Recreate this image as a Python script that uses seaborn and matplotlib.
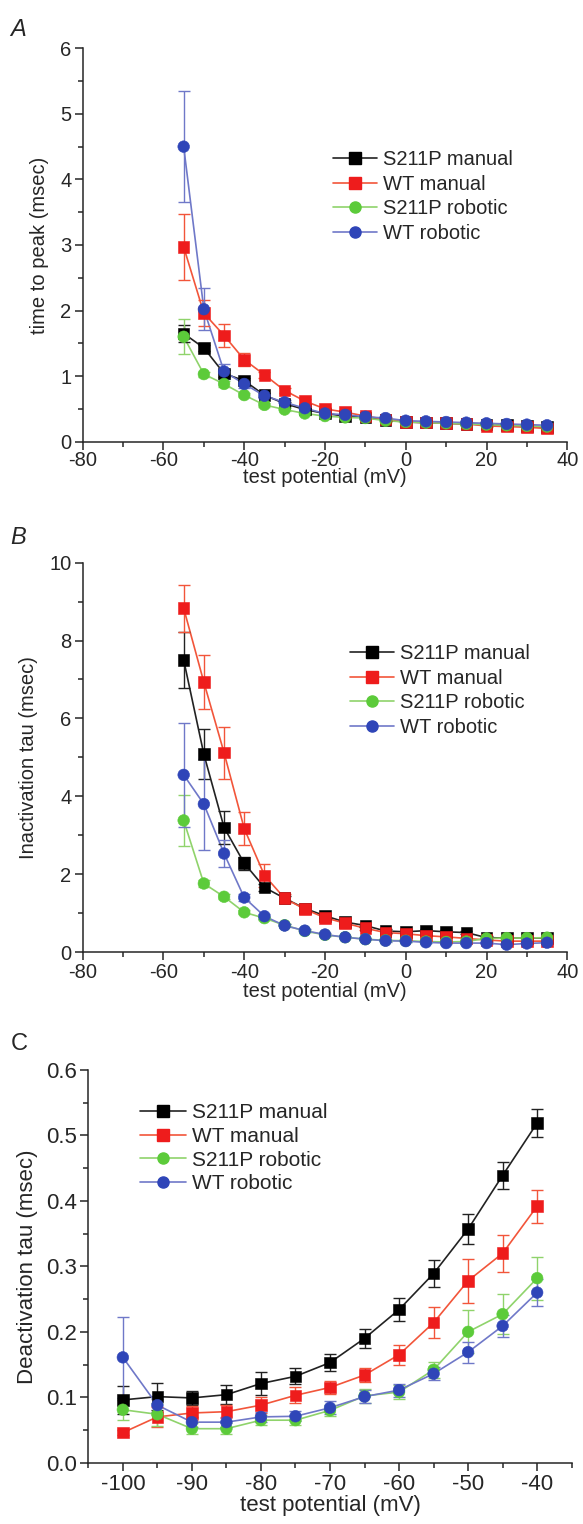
import numpy as np
import pandas as pd
import matplotlib
matplotlib.use("Agg")
import matplotlib.pyplot as plt
import seaborn as sns
from matplotlib.lines import Line2D
from matplotlib.ticker import MultipleLocator, FormatStrFormatter

# -------------------------------
# data
# -------------------------------
series = ["S211P manual", "WT manual", "S211P robotic", "WT robotic"]

v_ab = list(range(-55, 40, 5))   # panels A and B
v_c = list(range(-100, -35, 5))  # panel C

# A: time to peak (msec)
a_s211p_man = [1.65, 1.43, 1.04, 0.93, 0.71, 0.58, 0.49, 0.43, 0.39, 0.37, 0.33, 0.30, 0.29, 0.28, 0.27, 0.26, 0.25, 0.24, 0.22]
a_wt_man = [2.97, 1.96, 1.62, 1.25, 1.02, 0.78, 0.62, 0.50, 0.45, 0.39, 0.34, 0.30, 0.29, 0.28, 0.27, 0.24, 0.23, 0.22, 0.20]
a_s211p_rob = [1.60, 1.03, 0.88, 0.71, 0.56, 0.49, 0.43, 0.39, 0.37, 0.36, 0.32, 0.30, 0.29, 0.28, 0.27, 0.26, 0.25, 0.24, 0.23]
a_wt_rob = [4.50, 2.02, 1.07, 0.88, 0.70, 0.60, 0.51, 0.43, 0.41, 0.38, 0.36, 0.32, 0.31, 0.30, 0.29, 0.28, 0.27, 0.26, 0.25]
a_err_s211p_man = [0.13, 0.05, 0.06, 0.04, 0.03, 0.03, 0.02, 0.02, 0.02, 0.02, 0.02, 0.02, 0.02, 0.01, 0.01, 0.01, 0.01, 0.01, 0.01]
a_err_wt_man = [0.50, 0.20, 0.18, 0.10, 0.05, 0.04, 0.03, 0.03, 0.02, 0.02, 0.02, 0.02, 0.02, 0.01, 0.01, 0.01, 0.01, 0.01, 0.01]
a_err_s211p_rob = [0.27, 0.04, 0.04, 0.03, 0.03, 0.02, 0.02, 0.02, 0.02, 0.02, 0.02, 0.02, 0.01, 0.01, 0.01, 0.01, 0.01, 0.01, 0.01]
a_err_wt_rob = [0.85, 0.32, 0.12, 0.06, 0.04, 0.03, 0.03, 0.02, 0.02, 0.02, 0.02, 0.02, 0.02, 0.01, 0.01, 0.01, 0.01, 0.01, 0.01]

# B: inactivation tau (msec)
b_s211p_man = [7.50, 5.08, 3.20, 2.28, 1.66, 1.38, 1.12, 0.93, 0.77, 0.68, 0.54, 0.52, 0.55, 0.52, 0.50, 0.37, 0.36, 0.36, 0.36]
b_wt_man = [8.83, 6.93, 5.12, 3.17, 1.97, 1.38, 1.10, 0.88, 0.74, 0.61, 0.50, 0.47, 0.42, 0.39, 0.35, 0.31, 0.28, 0.28, 0.28]
b_s211p_rob = [3.38, 1.76, 1.42, 1.02, 0.87, 0.69, 0.54, 0.44, 0.38, 0.33, 0.30, 0.29, 0.27, 0.26, 0.27, 0.35, 0.36, 0.36, 0.37]
b_wt_rob = [4.55, 3.80, 2.53, 1.40, 0.92, 0.68, 0.55, 0.45, 0.38, 0.33, 0.29, 0.28, 0.25, 0.23, 0.23, 0.23, 0.19, 0.22, 0.24]
b_err_s211p_man = [0.73, 0.64, 0.42, 0.17, 0.10, 0.07, 0.06, 0.05, 0.05, 0.04, 0.04, 0.04, 0.04, 0.04, 0.04, 0.03, 0.03, 0.03, 0.03]
b_err_wt_man = [0.60, 0.70, 0.67, 0.43, 0.30, 0.12, 0.08, 0.06, 0.05, 0.04, 0.04, 0.04, 0.03, 0.03, 0.03, 0.03, 0.03, 0.03, 0.03]
b_err_s211p_rob = [0.65, 0.10, 0.06, 0.05, 0.04, 0.03, 0.03, 0.03, 0.02, 0.02, 0.02, 0.02, 0.02, 0.02, 0.02, 0.02, 0.02, 0.02, 0.02]
b_err_wt_rob = [1.34, 1.17, 0.34, 0.10, 0.06, 0.04, 0.04, 0.03, 0.03, 0.02, 0.02, 0.02, 0.02, 0.02, 0.02, 0.02, 0.02, 0.02, 0.02]

# C: deactivation tau (msec)
c_s211p_man = [0.096, 0.101, 0.099, 0.104, 0.121, 0.132, 0.153, 0.190, 0.234, 0.289, 0.357, 0.439, 0.519]
c_wt_man = [0.046, 0.070, 0.076, 0.078, 0.088, 0.103, 0.115, 0.134, 0.165, 0.214, 0.278, 0.320, 0.392]
c_s211p_rob = [0.081, 0.074, 0.052, 0.052, 0.065, 0.065, 0.080, 0.102, 0.108, 0.142, 0.200, 0.227, 0.282]
c_wt_rob = [0.161, 0.088, 0.062, 0.062, 0.070, 0.071, 0.084, 0.101, 0.111, 0.136, 0.169, 0.209, 0.260]
c_err_s211p_man = [0.021, 0.021, 0.011, 0.014, 0.017, 0.012, 0.013, 0.015, 0.018, 0.021, 0.023, 0.021, 0.021]
c_err_wt_man = [0.004, 0.015, 0.010, 0.010, 0.012, 0.012, 0.010, 0.010, 0.015, 0.024, 0.034, 0.028, 0.025]
c_err_s211p_rob = [0.015, 0.018, 0.008, 0.008, 0.008, 0.008, 0.008, 0.010, 0.010, 0.012, 0.033, 0.031, 0.033]
c_err_wt_rob = [0.062, 0.010, 0.008, 0.008, 0.008, 0.008, 0.010, 0.010, 0.010, 0.010, 0.016, 0.017, 0.020]

# -------------------------------
# style
# -------------------------------
line_colors = {"S211P manual": "#222222", "WT manual": "#f2553a",
               "S211P robotic": "#8fd36b", "WT robotic": "#6f78c8"}
marker_colors = {"S211P manual": "#000000", "WT manual": "#ee1c1c",
                 "S211P robotic": "#5ccb3a", "WT robotic": "#2f45b8"}
marker_shapes = {"S211P manual": "s", "WT manual": "s",
                 "S211P robotic": "o", "WT robotic": "o"}

sns.set_style("ticks")
plt.rcParams["font.family"] = ["Liberation Sans", "DejaVu Sans"]
plt.rcParams["axes.unicode_minus"] = False
plt.rcParams["axes.linewidth"] = 1.1


def long_table(x, vals, errs):
    rows = []
    for name, v, e in zip(series, vals, errs):
        for xi, yi, ei in zip(x, v, e):
            rows.append({"potential": xi, "value": yi, "err": ei, "series": name})
    return pd.DataFrame(rows)


def draw_panel(ax, df, fs, xpad=2):
    sns.lineplot(data=df, x="potential", y="value", hue="series",
                 hue_order=series, palette=line_colors, lw=1.2,
                 legend=False, ax=ax, zorder=2)
    for name in series:
        d = df[df["series"] == name]
        ax.errorbar(d["potential"], d["value"], yerr=d["err"], fmt="none",
                    ecolor=line_colors[name], elinewidth=1.0, capsize=4,
                    capthick=1.0, zorder=2)
    sns.scatterplot(data=df, x="potential", y="value", hue="series",
                    hue_order=series, palette=marker_colors, style="series",
                    markers=marker_shapes, s=70, linewidth=0.4,
                    edgecolor="face", legend=False, ax=ax, zorder=3)
    sns.despine(ax=ax)
    ax.tick_params(which="major", length=6, width=1.1, labelsize=fs, direction="out")
    ax.tick_params(which="minor", length=3.5, width=1.1, direction="out")
    ax.tick_params(axis="x", which="major", pad=xpad)
    ax.tick_params(axis="y", which="major", pad=2)


def add_legend(ax, anchor, fs, spacing):
    handles = [Line2D([], [], color=line_colors[n], lw=1.2,
                      marker=marker_shapes[n], markersize=8,
                      markerfacecolor=marker_colors[n],
                      markeredgecolor=marker_colors[n]) for n in series]
    ax.legend(handles, series, loc="upper left", bbox_to_anchor=anchor,
              frameon=False, fontsize=fs, handlelength=2.2, handletextpad=0.3,
              labelspacing=spacing, borderaxespad=0)


fig = plt.figure(figsize=(5.83, 15.24), dpi=100)

# -------------------------------
# A
# -------------------------------
axA = fig.add_axes([0.1419, 0.7102, 0.8311, 0.2581])
dfA = long_table(v_ab, [a_s211p_man, a_wt_man, a_s211p_rob, a_wt_rob],
                 [a_err_s211p_man, a_err_wt_man, a_err_s211p_rob, a_err_wt_rob])
draw_panel(axA, dfA, 14.5, xpad=0.5)
axA.set_xlim(-80, 40)
axA.set_ylim(0, 6)
axA.xaxis.set_major_locator(MultipleLocator(20))
axA.xaxis.set_minor_locator(MultipleLocator(10))
axA.yaxis.set_major_locator(MultipleLocator(1))
axA.yaxis.set_minor_locator(MultipleLocator(0.5))
axA.set_xlabel("test potential (mV)", fontsize=14.5, labelpad=-1)
axA.set_ylabel("time to peak (msec)", fontsize=14.5, labelpad=8)
add_legend(axA, (0.50, 0.762), 14.5, 0.28)

# -------------------------------
# B
# -------------------------------
axB = fig.add_axes([0.1419, 0.3753, 0.8311, 0.2555])
dfB = long_table(v_ab, [b_s211p_man, b_wt_man, b_s211p_rob, b_wt_rob],
                 [b_err_s211p_man, b_err_wt_man, b_err_s211p_rob, b_err_wt_rob])
draw_panel(axB, dfB, 14.5)
axB.set_xlim(-80, 40)
axB.set_ylim(0, 10)
axB.xaxis.set_major_locator(MultipleLocator(20))
axB.xaxis.set_minor_locator(MultipleLocator(10))
axB.yaxis.set_major_locator(MultipleLocator(2))
axB.yaxis.set_minor_locator(MultipleLocator(1))
axB.set_xlabel("test potential (mV)", fontsize=14.5, labelpad=0)
axB.set_ylabel("Inactivation tau (msec)", fontsize=14.5, labelpad=8)
add_legend(axB, (0.535, 0.812), 14.5, 0.28)

# -------------------------------
# C
# -------------------------------
axC = fig.add_axes([0.1515, 0.0402, 0.8291, 0.2577])
dfC = long_table(v_c, [c_s211p_man, c_wt_man, c_s211p_rob, c_wt_rob],
                 [c_err_s211p_man, c_err_wt_man, c_err_s211p_rob, c_err_wt_rob])
draw_panel(axC, dfC, 16)
axC.set_xlim(-105, -35)
axC.set_ylim(0, 0.6)
axC.xaxis.set_major_locator(MultipleLocator(10))
axC.xaxis.set_minor_locator(MultipleLocator(5))
axC.yaxis.set_major_locator(MultipleLocator(0.1))
axC.yaxis.set_minor_locator(MultipleLocator(0.05))
axC.yaxis.set_major_formatter(FormatStrFormatter("%.1f"))
axC.set_xlabel("test potential (mV)", fontsize=16, labelpad=0)
axC.set_ylabel("Deactivation tau (msec)", fontsize=16, labelpad=6)
add_legend(axC, (0.089, 0.936), 15, 0.22)

# panel letters
fig.text(0.018, 0.988, "A", fontsize=17, style="italic", va="top")
fig.text(0.018, 0.655, "B", fontsize=17, style="italic", va="top")
fig.text(0.018, 0.322, "C", fontsize=17, va="top")

plt.savefig("out.png", dpi=100)
